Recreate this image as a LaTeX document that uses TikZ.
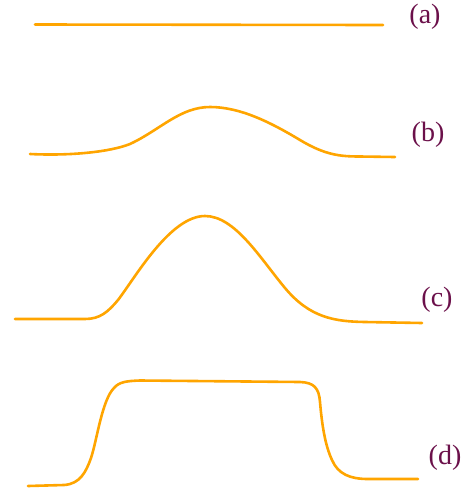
\documentclass[tikz,border=0pt]{standalone}
\usepackage{fontspec}
\setmainfont{Liberation Serif}
\begin{document}
\begin{tikzpicture}[x=1pt,y=-1pt,
  wave/.style={draw={rgb,255:red,255;green,165;blue,0}, line width=2.6pt, line cap=round, line join=round},
  lbl/.style={text={rgb,255:red,107;green,16;blue,74}, font=\fontsize{28}{28}\selectfont, inner sep=0pt}]
\useasboundingbox (0,0) rectangle (470,491);
% (a)
\draw[wave] (35,24.5) -- (383,25);
\node[lbl] (la) at (425,17) {(a)};
% (b)
\draw[wave] (30,154) .. controls (70,156) and (110,152) .. (130,144)
  .. controls (160,130) and (180,107) .. (210,107)
  .. controls (240,107) and (270,122) .. (300,140)
  .. controls (325,155) and (340,156.5) .. (360,156.5) -- (395,157);
\node[lbl] (lb) at (428,135) {(b)};
% (c)
\draw[wave] (15,319) -- (85,319) .. controls (100,319) and (108,312) .. (118,300)
  .. controls (135,278) and (170,216) .. (205,216)
  .. controls (235,216) and (260,258) .. (285,288)
  .. controls (310,318) and (335,321.5) .. (365,322) -- (422,323);
\node[lbl] (lc) at (437,300) {(c)};
% (d)
\draw[wave] (28,486) -- (64,485) .. controls (80,484) and (86,472) .. (91,458)
  .. controls (97,440) and (102,400) .. (114,388) .. controls (119,382) and (126,381) .. (140,380.5)
  -- (300,382) .. controls (314,382.5) and (319,388) .. (320,402)
  .. controls (322,425) and (325,445) .. (332,460) .. controls (338,474) and (350,479) .. (368,479) -- (418,479);
\node[lbl] (ld) at (445,458) {(d)};
\end{tikzpicture}
\end{document}
